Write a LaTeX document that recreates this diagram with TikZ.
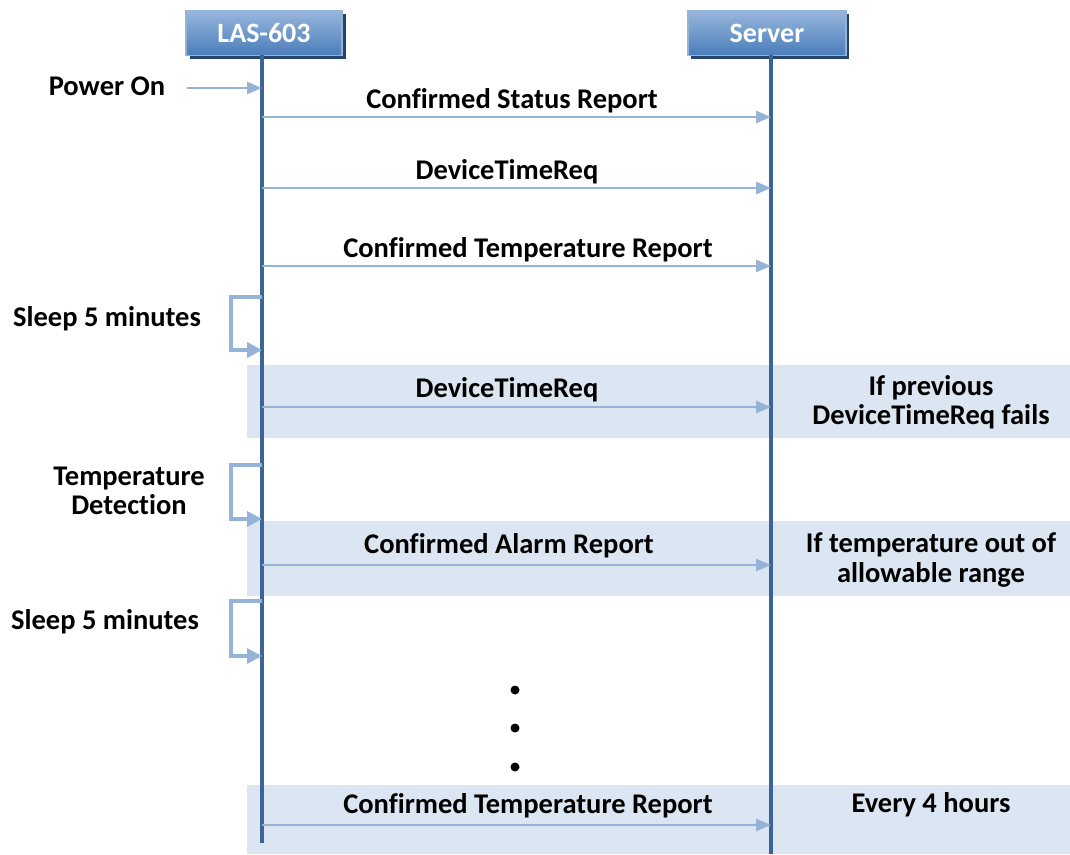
\documentclass[tikz,border=0pt]{standalone}
\usepackage{fontspec}
\setmainfont{Carlito}[Ligatures=NoCommon]
\usetikzlibrary{arrows.meta}
\definecolor{lifec}{HTML}{3B659A}
\definecolor{arrc}{HTML}{95B3D7}
\definecolor{bandc}{HTML}{DCE6F2}
\definecolor{hdtop}{HTML}{98B7DD}
\definecolor{hdbot}{HTML}{4A7DBA}
\definecolor{hdshadow}{HTML}{254469}
\tikzset{
  lbl/.style={font=\fontsize{28.5}{29.5}\selectfont\bfseries, text=black, inner sep=0pt, align=center},
  msg/.style={draw=arrc, line width=2.5pt, -{Triangle[length=15pt,width=12pt]}},
  loopar/.style={draw=arrc, line width=3.5pt, -{Triangle[length=15pt,width=15pt]}},
  life/.style={draw=lifec, line width=3.5pt},
  head/.style={draw=arrc, line width=1.5pt, top color=hdtop, bottom color=hdbot, minimum width=156pt, minimum height=45pt, inner sep=0pt, text=white, font=\fontsize{28}{30}\selectfont\bfseries},
  band/.style={fill=bandc, draw=none},
  dot/.style={circle, fill=black, inner sep=0pt, minimum size=9pt}
}
\begin{document}
\begin{tikzpicture}[x=1pt,y=-1pt]
\useasboundingbox (0,0) rectangle (1070,854);
% bands
\fill[band] (247,365) rectangle (1070,438);
\fill[band] (247,521) rectangle (1070,596);
\fill[band] (247,785) rectangle (1070,854);
% headers with shadow
\fill[hdshadow] (190,14) rectangle (346,59);
\fill[hdshadow] (691,14) rectangle (849,59);
\node[head] (las) at (264,33) {LAS-603};
\node[head, minimum width=158pt] (srv) at (767,33) {Server};
% lifelines
\coordinate (lasb) at (262,843);
\coordinate (srvb) at (771,854);
\draw[life] (262,55) -- (lasb);
\draw[life] (771,55) -- (srvb);
% power on
\node[lbl] (pon) at (107,86) {Power On};
\coordinate (ps) at (187,88);
\coordinate (pe) at (262,88);
\draw[msg] (ps) -- (pe);
% messages
\coordinate (a1) at (262,117); \coordinate (b1) at (771,117);
\draw[msg] (a1) -- (b1);
\node[lbl] (m1) at (512,101) {Confirmed Status Report};
\coordinate (a2) at (262,188); \coordinate (b2) at (771,188);
\draw[msg] (a2) -- (b2);
\node[lbl] (m2) at (507,172) {DeviceTimeReq};
\coordinate (a3) at (262,266); \coordinate (b3) at (771,266);
\draw[msg] (a3) -- (b3);
\node[lbl] (m3) at (528,250) {Confirmed Temperature Report};
% loop 1
\coordinate (l1s) at (262,297); \coordinate (l1e) at (262,350);
\draw[loopar] (l1s) -- (231,297) -- (231,350) -- (l1e);
\node[lbl] (s1) at (107,319) {Sleep 5 minutes};
% band 1
\coordinate (a4) at (262,407); \coordinate (b4) at (771,407);
\draw[msg] (a4) -- (b4);
\node[lbl] (m4) at (507,390) {DeviceTimeReq};
\node[lbl] (n1) at (931,402) {If previous\\DeviceTimeReq fails};
% loop 2
\coordinate (l2s) at (262,465); \coordinate (l2e) at (262,519);
\draw[loopar] (l2s) -- (231,465) -- (231,519) -- (l2e);
\node[lbl] (s2) at (129,491) {Temperature\\Detection};
% band 2
\coordinate (a5) at (262,565); \coordinate (b5) at (771,565);
\draw[msg] (a5) -- (b5);
\node[lbl] (m5) at (509,546) {Confirmed Alarm Report};
\node[lbl] (n2) at (931,560) {If temperature out of\\allowable range};
% loop 3
\coordinate (l3s) at (262,601); \coordinate (l3e) at (262,656);
\draw[loopar] (l3s) -- (231,601) -- (231,656) -- (l3e);
\node[lbl] (s3) at (105,622) {Sleep 5 minutes};
% dots
\node[dot] (d1) at (515,690) {};
\node[dot] (d2) at (515,728) {};
\node[dot] (d3) at (515,767) {};
% band 3
\coordinate (a6) at (262,825); \coordinate (b6) at (771,825);
\draw[msg] (a6) -- (b6);
\node[lbl] (m6) at (528,806) {Confirmed Temperature Report};
\node[lbl] (n3) at (931,805) {Every 4 hours};
\end{tikzpicture}
\end{document}
